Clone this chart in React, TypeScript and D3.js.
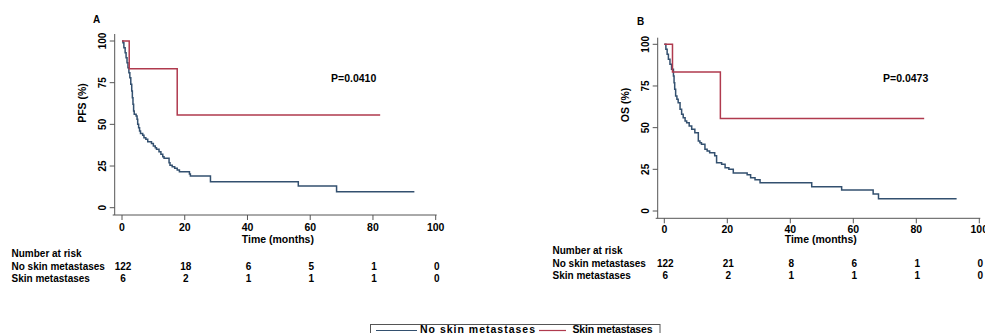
import React from "react";
import * as d3 from "d3";

// ---------- data ----------
const xTicks = [0, 20, 40, 60, 80, 100];
const yTicks = [0, 25, 50, 75, 100];
const seriesNames = ["No skin metastases", "Skin metastases"];

// Panel A (PFS)
const pfsNoTimes = [0, 0.3, 0.6, 1.0, 1.3, 1.6, 1.9, 2.2, 2.5, 2.8, 3.1, 3.3, 3.5, 3.7, 3.9, 4.5, 4.8, 5.0, 5.3, 5.6, 5.9, 6.6, 7.0, 7.6, 8.2, 9.4, 10.0, 10.6, 11.0, 11.8, 12.4, 13.0, 13.4, 15.0, 15.3, 16.0, 16.8, 17.6, 18.3, 21.5, 21.8, 28.2, 56.2, 68.4, 93.2];
const pfsNoSurv = [100, 99, 96, 93, 90, 87, 84, 81, 78, 74, 70, 66, 62, 58, 56, 55, 53, 50, 48, 46, 44.5, 43.5, 42, 41, 39.5, 38.5, 37, 36, 35, 33.5, 32, 30.5, 29.6, 27, 25.5, 24.6, 23.6, 22.6, 21.6, 20.2, 19, 15.6, 13, 9.6, 9.6];
const pfsSkinTimes = [0, 2.3, 17.6, 82.3];
const pfsSkinSurv = [100, 83.33, 55.56, 55.56];
const pfsRiskNo = [122, 18, 6, 5, 1, 0];
const pfsRiskSkin = [6, 2, 1, 1, 1, 0];

// Panel B (OS)
const osNoTimes = [0, 0.5, 0.9, 1.3, 1.8, 2.3, 2.9, 3.1, 3.3, 3.6, 4.0, 4.4, 5.0, 5.5, 6.0, 6.6, 7.1, 7.9, 8.7, 9.7, 10.8, 11.3, 11.8, 12.9, 13.6, 14.4, 16.0, 16.6, 18.2, 19.3, 20.5, 21.9, 26.3, 27.4, 28.8, 30.4, 46.8, 56.3, 66.3, 68.0, 92.8];
const osNoSurv = [100, 97, 94, 91, 88, 85, 81, 77, 73, 69, 67, 65, 61, 58, 56, 54, 53, 51, 49, 47, 42, 41, 40, 37, 36, 35, 33.2, 29, 28, 26, 25, 22.8, 21.8, 20, 18.8, 17, 14.6, 12.6, 10.2, 7.4, 7.4];
const osSkinTimes = [0, 2.6, 17.8, 82.5];
const osSkinSurv = [100, 83.33, 55.56, 55.56];
const osRiskNo = [122, 21, 8, 6, 1, 0];
const osRiskSkin = [6, 2, 1, 1, 1, 0];

const BLUE = "#33506f";
const RED = "#b03a4e";
const FONT = "'Liberation Sans', Arial, sans-serif";

type PanelProps = {
  letter: string;
  ylabel: string;
  pval: string;
  x0: number; x100: number; yZero: number; yHundred: number;
  axisY: number; axisX: number; yTop: number;
  noT: number[]; noS: number[]; skT: number[]; skS: number[];
  riskNo: number[]; riskSk: number[];
  riskLeft: number; riskY0: number;
  letterPos: [number, number]; ylabelX: number; ylabelY: number; pvalX: number;
  tickBaseline: number;
};

function Panel(p: PanelProps) {
  const x = d3.scaleLinear().domain([0, 100]).range([p.x0, p.x100]);
  const y = d3.scaleLinear().domain([0, 100]).range([p.yZero, p.yHundred]);
  const line = d3.line<[number, number]>().x(d => x(d[0])).y(d => y(d[1])).curve(d3.curveStepAfter);
  const noPts = p.noT.map((t, i) => [t, p.noS[i]] as [number, number]);
  const skPts = p.skT.map((t, i) => [t, p.skS[i]] as [number, number]);
  const axisColor = "#555";
  return (
    <g fontFamily={FONT} fontWeight="bold">
      <text x={p.letterPos[0]} y={p.letterPos[1]} fontSize={10}>{p.letter}</text>
      {/* y axis */}
      <line x1={p.axisX} x2={p.axisX} y1={p.yTop} y2={p.axisY} stroke={axisColor} strokeWidth={1} />
      {yTicks.map(v => (
        <g key={v}>
          <line x1={p.axisX - 5} x2={p.axisX} y1={y(v)} y2={y(v)} stroke={axisColor} />
          <text transform={`translate(${p.axisX - 9},${y(v)}) rotate(-90)`} textAnchor="middle" fontSize={10}>{v}</text>
        </g>
      ))}
      <text transform={`translate(${p.ylabelX},${p.ylabelY}) rotate(-90)`} textAnchor="middle" fontSize={10.5} dy="0.35em">{p.ylabel}</text>
      {/* x axis */}
      <line x1={p.axisX - 2} x2={x(100) + 1} y1={p.axisY} y2={p.axisY} stroke={axisColor} />
      {xTicks.map(t => (
        <g key={t}>
          <line x1={x(t)} x2={x(t)} y1={p.axisY} y2={p.axisY + 5} stroke={axisColor} />
          <text x={x(t)} y={p.tickBaseline} textAnchor="middle" fontSize={10.5}>{t}</text>
        </g>
      ))}
      <text x={x(50) - 1} y={243} textAnchor="middle" fontSize={10.5}>Time (months)</text>
      {/* curves */}
      <path d={line(noPts) || ""} fill="none" stroke={BLUE} strokeWidth={1.5} />
      <path d={line(skPts) || ""} fill="none" stroke={RED} strokeWidth={1.5} />
      <text x={p.pvalX} y={82} fontSize={10.5}>{p.pval}</text>
      {/* number at risk */}
      <text x={p.riskLeft} y={p.riskY0} fontSize={10}>Number at risk</text>
      <text x={p.riskLeft} y={p.riskY0 + 12.5} fontSize={10}>{seriesNames[0]}</text>
      <text x={p.riskLeft} y={p.riskY0 + 25} fontSize={10}>{seriesNames[1]}</text>
      {p.riskNo.map((n, i) => (
        <text key={"a" + i} x={x(xTicks[i]) + 1} y={p.riskY0 + 12.5} textAnchor="middle" fontSize={10}>{n}</text>
      ))}
      {p.riskSk.map((n, i) => (
        <text key={"b" + i} x={x(xTicks[i]) + 1} y={p.riskY0 + 25} textAnchor="middle" fontSize={10}>{n}</text>
      ))}
    </g>
  );
}

export default function App() {
  return (
    <svg width={985} height={333} style={{ position: "absolute", left: 0, top: 0, background: "#fff" }}>
      <rect x={0} y={0} width={985} height={333} fill="#fff" />
      <Panel letter="A" ylabel="PFS (%)" pval="P=0.0410"
        x0={122} x100={435.7} yZero={207.7} yHundred={41}
        axisY={215} axisX={114.7} yTop={34}
        noT={pfsNoTimes} noS={pfsNoSurv} skT={pfsSkinTimes} skS={pfsSkinSurv}
        riskNo={pfsRiskNo} riskSk={pfsRiskSkin}
        riskLeft={11.5} riskY0={257}
        letterPos={[93, 23]} ylabelX={82} ylabelY={103} pvalX={331}
        tickBaseline={231} />
      <Panel letter="B" ylabel="OS (%)" pval="P=0.0473"
        x0={664.3} x100={979.3} yZero={211} yHundred={44.3}
        axisY={218.3} axisX={657.7} yTop={37.7}
        noT={osNoTimes} noS={osNoSurv} skT={osSkinTimes} skS={osSkinSurv}
        riskNo={osRiskNo} riskSk={osRiskSkin}
        riskLeft={552.5} riskY0={254}
        letterPos={[637, 25]} ylabelX={625} ylabelY={105} pvalX={883}
        tickBaseline={232.5} />
      {/* legend */}
      <g fontFamily={FONT} fontWeight="bold" fontSize={10.5}>
        <rect x={370.5} y={324.5} width={289.5} height={20} fill="none" stroke="#555" />
        <line x1={376} x2={417} y1={330.5} y2={330.5} stroke={BLUE} strokeWidth={1.2} />
        <text x={420} y={333} textLength={115} lengthAdjust="spacing">{seriesNames[0]}</text>
        <line x1={539} x2={566} y1={330.5} y2={330.5} stroke={RED} strokeWidth={1.2} />
        <text x={572.5} y={333} textLength={80} lengthAdjust="spacing">{seriesNames[1]}</text>
      </g>
    </svg>
  );
}
